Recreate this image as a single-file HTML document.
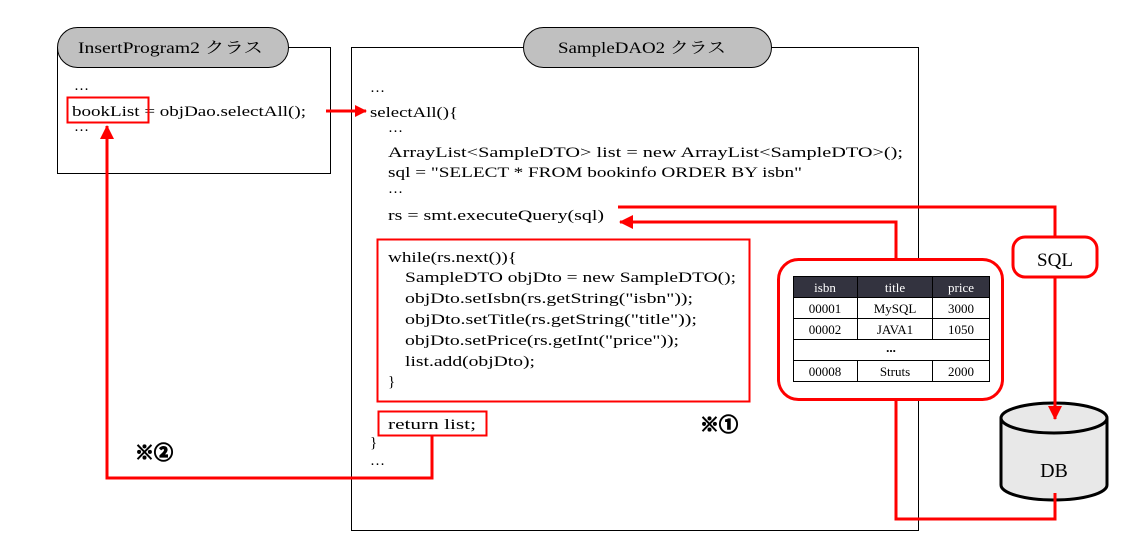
<!DOCTYPE html>
<html><head><meta charset="utf-8"><style>
html,body{margin:0;padding:0;background:#fff;}
svg{display:block;}
text{font-family:"Liberation Serif","Noto Serif CJK SC",serif;font-size:15px;fill:#000;}
.t{font-size:13px;}
</style></head><body>
<svg width="1142" height="558" viewBox="0 0 1142 558" xmlns="http://www.w3.org/2000/svg">
<defs>
<marker id="ah" markerWidth="12" markerHeight="12" refX="11" refY="6" orient="auto" markerUnits="userSpaceOnUse" viewBox="0 0 12 12">
<path d="M0,0 L12,6 L0,12 z" fill="#f00"/></marker>
<marker id="ah2" markerWidth="14" markerHeight="14" refX="13" refY="7" orient="auto" markerUnits="userSpaceOnUse" viewBox="0 0 14 14">
<path d="M0,0 L14,7 L0,14 z" fill="#f00"/></marker>
</defs>
<!-- left box -->
<rect x="57.5" y="47.5" width="273" height="126" fill="#fff" stroke="#000"/>
<rect x="57.5" y="27.5" width="231" height="40" rx="20" fill="#c0c0c0" stroke="#000"/>
<text x="78" y="53" style="font-size:16px" textLength="185" lengthAdjust="spacingAndGlyphs">InsertProgram2 クラス</text>
<text x="74" y="90">…</text>
<text x="72" y="116" textLength="234" lengthAdjust="spacingAndGlyphs">bookList = objDao.selectAll();</text>
<text x="74" y="131">…</text>
<rect x="67.5" y="97.5" width="81" height="25" fill="none" stroke="#f00" stroke-width="2"/>
<!-- right box -->
<rect x="351.5" y="47.5" width="567" height="483" fill="#fff" stroke="#000"/>
<rect x="523.5" y="27.5" width="248" height="40" rx="20" fill="#c0c0c0" stroke="#000"/>
<text x="558" y="53" style="font-size:16px" textLength="168" lengthAdjust="spacingAndGlyphs">SampleDAO2 クラス</text>
<text x="370" y="92">…</text>
<text x="370" y="117" textLength="88" lengthAdjust="spacingAndGlyphs">selectAll(){</text>
<text x="388" y="132">…</text>
<text x="388" y="157" textLength="515" lengthAdjust="spacingAndGlyphs">ArrayList&lt;SampleDTO&gt; list = new ArrayList&lt;SampleDTO&gt;();</text>
<text x="388" y="177" textLength="414" lengthAdjust="spacingAndGlyphs">sql = "SELECT * FROM bookinfo ORDER BY isbn"</text>
<text x="388" y="193">…</text>
<text x="388" y="220" textLength="216" lengthAdjust="spacingAndGlyphs">rs = smt.executeQuery(sql)</text>
<rect x="377.5" y="239.5" width="372" height="162" fill="none" stroke="#f00" stroke-width="2"/>
<text x="388" y="262" textLength="129" lengthAdjust="spacingAndGlyphs">while(rs.next()){</text>
<text x="405" y="282" textLength="331" lengthAdjust="spacingAndGlyphs">SampleDTO objDto = new SampleDTO();</text>
<text x="405" y="303" textLength="288" lengthAdjust="spacingAndGlyphs">objDto.setIsbn(rs.getString("isbn"));</text>
<text x="405" y="324" textLength="292" lengthAdjust="spacingAndGlyphs">objDto.setTitle(rs.getString("title"));</text>
<text x="405" y="345" textLength="274" lengthAdjust="spacingAndGlyphs">objDto.setPrice(rs.getInt("price"));</text>
<text x="405" y="366" textLength="130" lengthAdjust="spacingAndGlyphs">list.add(objDto);</text>
<text x="388" y="386">}</text>
<rect x="378.5" y="411.5" width="108" height="24" fill="none" stroke="#f00" stroke-width="2"/>
<text x="388" y="429" textLength="88" lengthAdjust="spacingAndGlyphs">return list;</text>
<text x="370" y="447">}</text>
<text x="370" y="465">…</text>
<text x="700" y="431" stroke="#000" stroke-width="1.2" style="font-size:19px;font-weight:bold;font-family:'Noto Sans CJK JP',sans-serif">※①</text>
<text x="135" y="459" stroke="#000" stroke-width="1.2" style="font-size:19px;font-weight:bold;font-family:'Noto Sans CJK JP',sans-serif">※②</text>
<!-- call arrow -->
<line x1="326" y1="111" x2="366" y2="111" stroke="#f00" stroke-width="3" marker-end="url(#ah)"/>
<!-- return path -->
<polyline points="432,436 432,478 107,478 107,126" fill="none" stroke="#f00" stroke-width="3" marker-end="url(#ah2)"/>
<!-- DB -->
<path d="M1001,418 L1001,485 A53,15 0 0 0 1107,485 L1107,418" fill="#e8e8e8" stroke="#000" stroke-width="3"/>
<ellipse cx="1054" cy="418" rx="53" ry="15" fill="#e8e8e8" stroke="#000" stroke-width="3"/>
<text x="1054" y="477" text-anchor="middle" style="font-size:20px">DB</text>
<!-- SQL path -->
<polyline points="618,207 1055,207 1055,237" fill="none" stroke="#f00" stroke-width="3"/>
<line x1="1055" y1="277" x2="1055" y2="419" stroke="#f00" stroke-width="3" marker-end="url(#ah2)"/>
<rect x="1013" y="237" width="84" height="40" rx="12" fill="#fff" stroke="#f00" stroke-width="3"/>
<text x="1055" y="266" text-anchor="middle" style="font-size:19px">SQL</text>
<!-- result path -->
<polyline points="1055,493 1055,519 896,519 896,400" fill="none" stroke="#f00" stroke-width="3"/>
<polyline points="896,259 896,222 620,222" fill="none" stroke="#f00" stroke-width="3" marker-end="url(#ah2)"/>
<!-- table box -->
<rect x="778.5" y="259.5" width="224" height="140" rx="20" fill="#fff" stroke="#f00" stroke-width="3"/>
<rect x="793.5" y="276.5" width="196" height="21" fill="#33333f" stroke="#000"/>
<rect x="793.5" y="297.5" width="196" height="84" fill="#fff" stroke="#000"/>
<g stroke="#000">
<line x1="793" y1="318.5" x2="990" y2="318.5"/>
<line x1="793" y1="339.5" x2="990" y2="339.5"/>
<line x1="793" y1="360.5" x2="990" y2="360.5"/>
<line x1="857.5" y1="276" x2="857.5" y2="339"/>
<line x1="932.5" y1="276" x2="932.5" y2="339"/>
<line x1="857.5" y1="360" x2="857.5" y2="381"/>
<line x1="932.5" y1="360" x2="932.5" y2="381"/>
</g>
<g class="t" text-anchor="middle">
<text class="t" x="825" y="292" style="fill:#fff">isbn</text>
<text class="t" x="895" y="292" style="fill:#fff">title</text>
<text class="t" x="961" y="292" style="fill:#fff">price</text>
<text class="t" x="825" y="313">00001</text>
<text class="t" x="895" y="313">MySQL</text>
<text class="t" x="961" y="313">3000</text>
<text class="t" x="825" y="334">00002</text>
<text class="t" x="895" y="334">JAVA1</text>
<text class="t" x="961" y="334">1050</text>
<text class="t" x="891" y="352" style="font-weight:bold">...</text>
<text class="t" x="825" y="376">00008</text>
<text class="t" x="895" y="376">Struts</text>
<text class="t" x="961" y="376">2000</text>
</g>
</svg>
</body></html>
